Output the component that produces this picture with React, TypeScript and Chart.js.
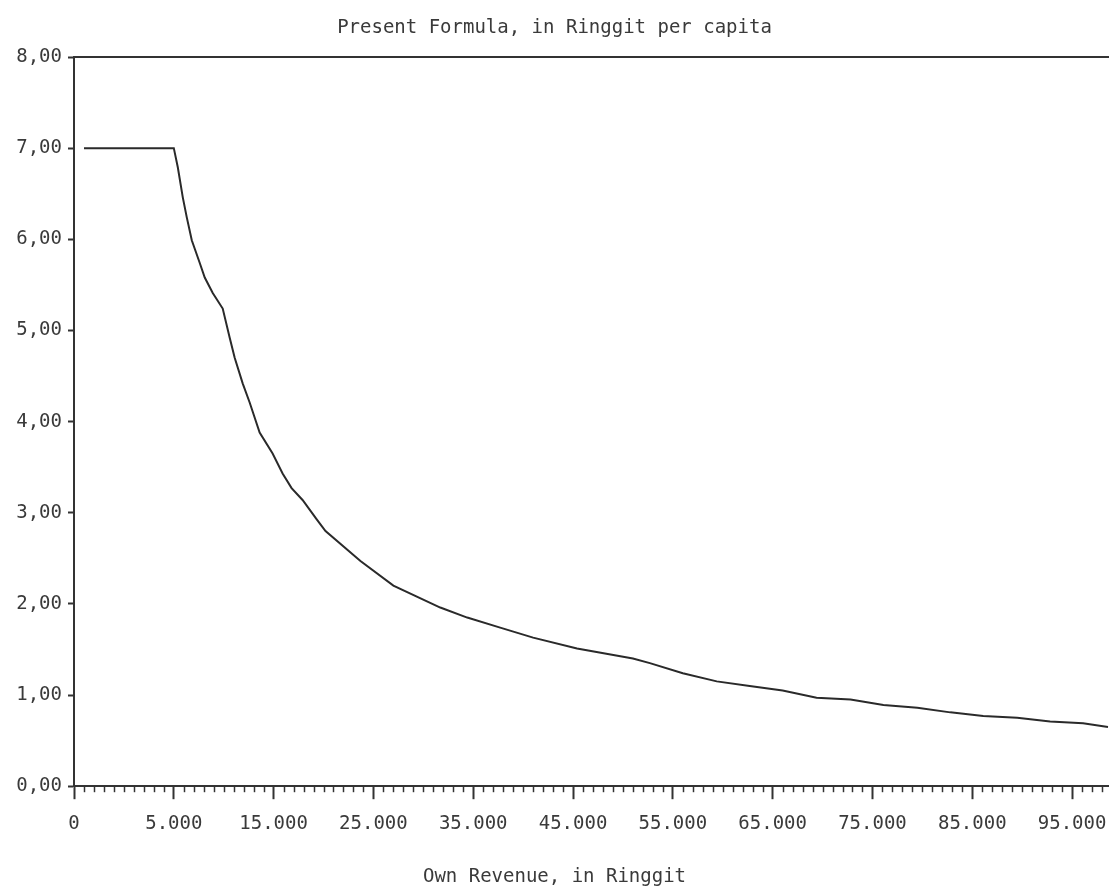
import React, { useEffect, useRef } from "react";
import { Chart, registerables } from "chart.js";

Chart.register(...registerables);

// Position along the revenue axis, measured in major-tick steps (tick i carries xTickLabels[i])
const axisPos = [
  0.1, 1.0, 1.04, 1.09, 1.13, 1.18, 1.26, 1.31, 1.39, 1.49, 1.56, 1.61, 1.69, 1.76,
  1.86, 1.99, 2.09, 2.18, 2.29, 2.43, 2.52, 2.87, 3.2, 3.67, 3.94, 4.27, 4.6, 5.04,
  5.6, 5.77, 6.1, 6.44, 6.77, 7.1, 7.44, 7.78, 8.11, 8.45, 8.78, 9.11, 9.45, 9.78,
  10.11, 10.36,
];
// Grant, in Ringgit per capita
const grantPerCapita = [
  7.0, 7.0, 6.79, 6.46, 6.24, 5.99, 5.74, 5.58, 5.41, 5.24, 4.92, 4.7, 4.42, 4.21,
  3.88, 3.65, 3.43, 3.27, 3.14, 2.93, 2.8, 2.47, 2.2, 1.96, 1.85, 1.74, 1.63, 1.51,
  1.4, 1.35, 1.24, 1.15, 1.1, 1.05, 0.97, 0.95, 0.89, 0.86, 0.81, 0.77, 0.75, 0.71,
  0.69, 0.65,
];
const xTickLabels = [
  "0", "5.000", "15.000", "25.000", "35.000", "45.000", "55.000", "65.000",
  "75.000", "85.000", "95.000",
];
const yTickValues = [0, 1, 2, 3, 4, 5, 6, 7, 8];

const chartTitle = "Present Formula, in Ringgit per capita";
const xTitle = "Own Revenue, in Ringgit";

const FONT = "'DejaVu Sans Mono', 'Liberation Mono', monospace";
const INK = "#333333";
const TEXT = "#3a3a3a";

const frameAndMinorTicks = {
  id: "frameAndMinorTicks",
  afterDraw(chart: any) {
    const { ctx, chartArea } = chart;
    const xs = chart.scales.x;
    ctx.save();
    ctx.strokeStyle = INK;
    ctx.lineWidth = 2;
    // top frame line
    ctx.beginPath();
    ctx.moveTo(chartArea.left, chartArea.top);
    ctx.lineTo(chartArea.right, chartArea.top);
    ctx.stroke();
    // minor ticks on x axis
    ctx.lineWidth = 1.5;
    const maxK = Math.floor(xs.max * 10);
    for (let k = 1; k <= maxK; k++) {
      if (k % 10 === 0) continue;
      const px = Math.round(xs.getPixelForValue(k / 10)) + 0.5;
      ctx.beginPath();
      ctx.moveTo(px, chartArea.bottom);
      ctx.lineTo(px, chartArea.bottom + 6);
      ctx.stroke();
    }
    ctx.restore();
  },
};

export default function App() {
  const canvasRef = useRef<HTMLCanvasElement | null>(null);

  useEffect(() => {
    if (!canvasRef.current) return;
    const data = axisPos.map((x, i) => ({ x, y: grantPerCapita[i] }));
    const chart = new Chart(canvasRef.current, {
      type: "line",
      data: {
        datasets: [
          {
            label: "Present Formula",
            data,
            borderColor: "#2a2a2a",
            borderWidth: 2,
            pointRadius: 0,
            tension: 0,
            fill: false,
          },
        ],
      },
      options: {
        responsive: false,
        animation: false,
        layout: { padding: { left: 0, right: 0, top: 0, bottom: 0 } },
        plugins: {
          legend: { display: false },
          tooltip: { enabled: false },
          title: {
            display: true,
            text: chartTitle,
            color: TEXT,
            font: { family: FONT, size: 19, weight: "normal" },
            padding: { top: 17, bottom: 17.2 },
          },
          subtitle: {
            display: true,
            position: "bottom",
            text: xTitle,
            color: TEXT,
            font: { family: FONT, size: 19, weight: "normal" },
            padding: { top: 0, bottom: 2 },
          },
        },
        scales: {
          x: {
            type: "linear",
            min: 0,
            max: 10.37,
            afterBuildTicks: (s: any) => {
              s.ticks = xTickLabels.map((_, i) => ({ value: i }));
            },
            afterFit: (s: any) => {
              s.height = 79;
              s.paddingLeft = 0;
              s.paddingRight = 0;
            },
            ticks: {
              autoSkip: false,
              maxRotation: 0,
              padding: 13,
              color: TEXT,
              font: { family: FONT, size: 19 },
              callback: (v: any) => xTickLabels[Math.round(Number(v))] ?? "",
            },
            grid: {
              drawOnChartArea: false,
              drawTicks: true,
              tickLength: 13,
              tickWidth: 2,
              tickColor: INK,
            },
            border: { display: true, color: INK, width: 2 },
          },
          y: {
            type: "linear",
            min: 0,
            max: 8,
            afterBuildTicks: (s: any) => {
              s.ticks = yTickValues.map((v) => ({ value: v }));
            },
            afterFit: (s: any) => {
              s.width = 74;
            },
            ticks: {
              padding: 6,
              color: TEXT,
              font: { family: FONT, size: 19 },
              callback: (v: any) => Number(v).toFixed(2).replace(".", ","),
            },
            grid: {
              drawOnChartArea: false,
              drawTicks: true,
              tickLength: 6,
              tickWidth: 2,
              tickColor: INK,
            },
            border: { display: true, color: INK, width: 2 },
          },
        },
      },
      plugins: [frameAndMinorTicks],
    });
    return () => chart.destroy();
  }, []);

  return (
    <div style={{ position: "fixed", left: 0, top: 0, width: 1109, height: 890, background: "#fff" }}>
      <canvas ref={canvasRef} width={1109} height={890} />
    </div>
  );
}
